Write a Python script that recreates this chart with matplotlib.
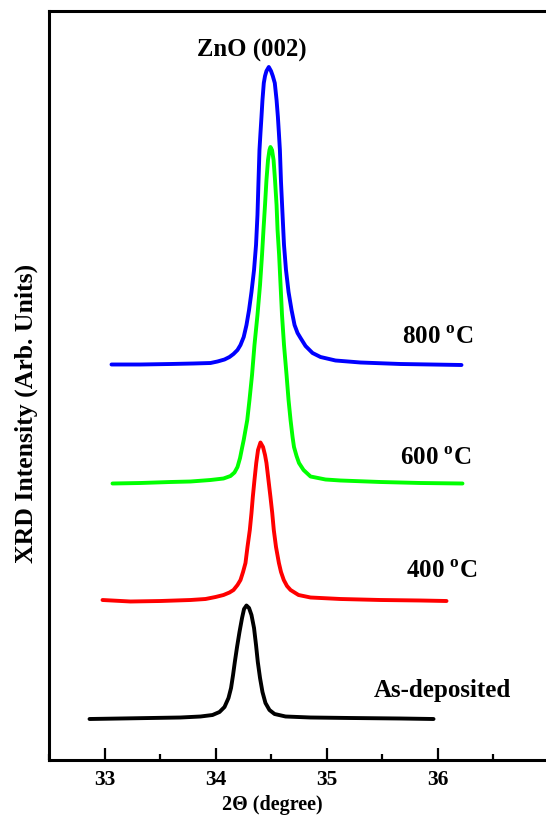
import numpy as np
from matplotlib import pyplot as plt
from matplotlib.ticker import MultipleLocator

# ---------------------------------------------- #
# Data (2theta in degrees, stacked intensity in arb. units)
# ---------------------------------------------- #

x_asdep = [32.865, 33.144, 33.414, 33.685, 33.865, 33.973, 34.036, 34.081, 34.117, 34.140,
           34.158, 34.174, 34.194, 34.216, 34.239, 34.257, 34.279, 34.302, 34.324, 34.347,
           34.365, 34.381, 34.401, 34.423, 34.450, 34.486, 34.532, 34.631, 34.856, 35.216,
           35.667, 35.964]
y_asdep = [41, 41.5, 42, 42.5, 43.5, 45, 48, 53, 62, 72,
           85, 98, 113, 128, 142, 151, 154.5, 152, 145, 132,
           115, 98, 82, 68, 57, 50, 46, 43.5, 42.5, 42,
           41.5, 41]

x_400 = [32.982, 33.234, 33.505, 33.775, 33.910, 34.000, 34.072, 34.126, 34.162, 34.198,
         34.225, 34.248, 34.270, 34.288, 34.309, 34.324, 34.336, 34.351, 34.367, 34.383,
         34.405, 34.428, 34.446, 34.459, 34.477, 34.495, 34.511, 34.525, 34.545, 34.571,
         34.590, 34.615, 34.644, 34.676, 34.748, 34.856, 35.126, 35.486, 35.847, 36.081]
y_400 = [160, 158.5, 159, 160, 161, 163, 165, 167.5, 170, 175,
         180, 188, 197, 213, 230, 247, 263, 280, 297, 310,
         317.5, 313, 305, 297, 280, 263, 247, 230, 213, 197,
         188, 180, 174, 170, 165, 162.5, 161, 160, 159.5, 159]

x_600 = [33.072, 33.324, 33.595, 33.775, 33.955, 34.072, 34.135, 34.171, 34.198, 34.221,
         34.239, 34.254, 34.270, 34.286, 34.306, 34.329, 34.351, 34.378, 34.401, 34.419,
         34.432, 34.446, 34.459, 34.473, 34.486, 34.495, 34.509, 34.523, 34.536, 34.550,
         34.559, 34.573, 34.586, 34.599, 34.617, 34.640, 34.658, 34.676, 34.694, 34.707,
         34.730, 34.752, 34.793, 34.856, 34.991, 35.126, 35.486, 35.847, 36.225]
y_600 = [276.5, 277, 278, 278.5, 280, 281.5, 284, 287.5, 293, 302,
         312, 320, 330, 340, 360, 385, 415, 445, 475, 505,
         530, 555, 580, 600, 610, 613, 610, 600, 580, 555,
         530, 505, 475, 445, 415, 385, 360, 340, 323, 313,
         304, 297, 290, 283.5, 280.5, 279.5, 278, 277, 276.5]

x_800 = [33.063, 33.324, 33.595, 33.802, 33.955, 34.018, 34.081, 34.126, 34.162, 34.198,
         34.225, 34.254, 34.279, 34.302, 34.324, 34.347, 34.365, 34.378, 34.387, 34.396,
         34.405, 34.414, 34.423, 34.435, 34.446, 34.459, 34.480, 34.500, 34.516, 34.534,
         34.550, 34.562, 34.571, 34.580, 34.590, 34.604, 34.617, 34.635, 34.658, 34.685,
         34.712, 34.739, 34.766, 34.811, 34.874, 34.946, 35.081, 35.306, 35.667, 36.216]
y_800 = [395.5, 395.5, 396, 396.5, 397, 398.5, 400.5, 403, 406, 410,
         415, 423, 435, 450, 468, 490, 515, 545, 578, 610,
         627, 643, 660, 677, 684, 689, 693, 689, 684, 677,
         660, 643, 627, 610, 578, 545, 515, 490, 468, 450,
         435, 427, 422, 414, 407, 403, 399.5, 397.5, 396, 395]

labels = ['As-deposited', '400 $^{\\rm o}$C', '600 $^{\\rm o}$C', '800 $^{\\rm o}$C']
colors = ['black', '#ff0000', '#00ff00', '#0000ff']
label_pos = [(36.04, 70), (36.04, 188), (35.98, 302), (36.00, 423)]

# ---------------------------------------------- #
# Plot
# ---------------------------------------------- #

plt.rcParams['font.family'] = ['Liberation Serif', 'DejaVu Serif']
plt.rcParams['font.weight'] = 'bold'
plt.rcParams['mathtext.fontset'] = 'custom'
plt.rcParams['mathtext.rm'] = 'Liberation Serif:bold'
plt.rcParams['mathtext.bf'] = 'Liberation Serif:bold'

fig = plt.figure(figsize=(5.46, 8.22), dpi=100)
# right edge of the frame falls just past the picture, as in the original crop
ax = fig.add_axes([49/546, 62/822, 496.2/546, 749/822])

curves = [(x_asdep, y_asdep), (x_400, y_400), (x_600, y_600), (x_800, y_800)]
for (xs, ys), c in zip(curves, colors):
    ax.plot(xs, ys, color=c, linewidth=2.8, solid_joinstyle='round', solid_capstyle='round')

for lab, (tx, ty) in zip(labels, label_pos):
    ax.text(tx, ty, lab, fontsize=18, fontweight='bold', ha='center', va='center')
ax.text(34.33, 710, 'ZnO (002)', fontsize=17.8, fontweight='bold', ha='center', va='center')

ax.set_xlim(32.5, 36.97)
ax.set_ylim(0, 749)
ax.xaxis.set_major_locator(MultipleLocator(1))
ax.xaxis.set_minor_locator(MultipleLocator(0.5))
ax.set_yticks([])
ax.tick_params(axis='x', which='major', direction='in', length=8.5, width=1.6,
               labelsize=15.5, pad=7)
ax.tick_params(axis='x', which='minor', direction='in', length=4.5, width=1.6)
ax.spines['right'].set_visible(False)
for s in ['left', 'top', 'bottom']:
    ax.spines[s].set_linewidth(2.2)

ax.set_xlabel('2\u0398 (degree)', fontsize=14.5, fontweight='bold')
ax.xaxis.set_label_coords(0.451, -0.060)
ax.xaxis.label.set_verticalalignment('center')
ax.set_ylabel('XRD Intensity (Arb. Units)', fontsize=18.5, fontweight='bold')
ax.yaxis.set_label_coords(-0.046, 0.4626)
ax.yaxis.label.set_verticalalignment('center')

plt.savefig('out.png', dpi=100)
